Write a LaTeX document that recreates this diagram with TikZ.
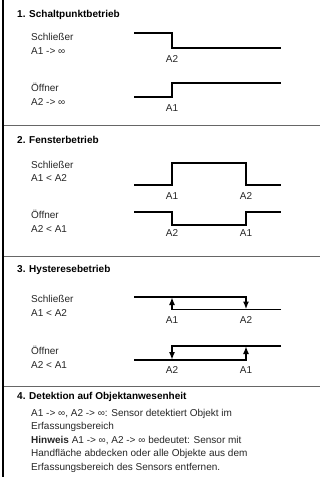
\documentclass[tikz,border=0pt]{standalone}
\usepackage{fontspec}
\setmainfont{Liberation Sans}
\usetikzlibrary{arrows.meta}

\tikzset{
  sectitle/.style={anchor=west, inner sep=0pt, font=\bfseries\fontsize{10}{13.5}\selectfont},
  modelabel/.style={anchor=west, align=left, inner sep=0pt, text=black!85, font=\fontsize{10}{13.5}\selectfont},
  levellabel/.style={inner sep=0pt, text=black!85, font=\fontsize{10}{12}\selectfont},
  signal/.style={line width=1.8pt, line cap=butt, line join=miter},
  switcharrow/.style={signal, -{Latex[length=8pt,width=6pt]}},
  divider/.style={line width=0.9pt, black!60},
}

\begin{document}
\begin{tikzpicture}[x=1pt, y=-1pt]
  % Define page bounds and switching points
  \def\xmax{332} \def\ymax{477}
  \def\xs{134} \def\xa{172} \def\xb{246} \def\xe{281}
  \useasboundingbox (0,0) rectangle (\xmax,\ymax);

  % Left border and section dividers
  \draw[line width=2pt] (3,0) -- (3,\ymax);
  \draw[divider] (4,125.5) -- (320,125.5);
  \draw[divider] (4,256) -- (320,256);
  \draw[divider] (4,386) -- (320,386);

  % Part 1: Schaltpunktbetrieb
  \node[sectitle] (t1) at (17,15) {1. Schaltpunktbetrieb};
  \node[modelabel] (s1) at (31,44) {Schließer\\A1 -> ∞};
  \node[modelabel] (o1) at (31,94.5) {Öffner\\A2 -> ∞};
  \draw[signal] (\xs,33) -- (\xa,33) -- (\xa,48) -- (\xe,48);
  \draw[signal] (\xs,97) -- (\xa,97) -- (\xa,83) -- (\xe,83);
  \node[levellabel] (s1b) at (\xa,59) {A2};
  \node[levellabel] (o1a) at (\xa,108) {A1};

  % Part 2: Fensterbetrieb
  \node[sectitle] (t2) at (17,140) {2. Fensterbetrieb};
  \node[modelabel] (s2) at (31,171.5) {Schließer\\A1 < A2};
  \node[modelabel] (o2) at (31,221.5) {Öffner\\A2 < A1};
  \draw[signal] (\xs,185) -- (\xa,185) -- (\xa,163) -- (\xb,163) -- (\xb,185) -- (\xe,185);
  \draw[signal] (\xs,212) -- (\xa,212) -- (\xa,225) -- (\xb,225) -- (\xb,212) -- (\xe,212);
  \node[levellabel] (s2a) at (\xa,196) {A1};
  \node[levellabel] (s2b) at (\xb,196) {A2};
  \node[levellabel] (o2b) at (\xa,233) {A2};
  \node[levellabel] (o2a) at (\xb,233) {A1};

  % Part 3: Hysteresebetrieb
  \node[sectitle] (t3) at (17,270) {3. Hysteresebetrieb};
  \node[modelabel] (s3) at (31,306) {Schließer\\A1 < A2};
  \node[modelabel] (o3) at (31,357.5) {Öffner\\A2 < A1};
  \draw[switcharrow] (\xs,297) -- (\xb,297) -- (\xb,309.5);
  \draw[switcharrow] (\xe,309.5) -- (\xa,309.5) -- (\xa,297);
  \draw[switcharrow] (\xe,346) -- (\xa,346) -- (\xa,360);
  \draw[switcharrow] (\xs,360) -- (\xb,360) -- (\xb,346);
  \node[levellabel] (s3a) at (\xa,320) {A1};
  \node[levellabel] (s3b) at (\xb,320) {A2};
  \node[levellabel] (o3b) at (\xa,370) {A2};
  \node[levellabel] (o3a) at (\xb,370) {A1};

  % Part 4: Detektion auf Objektanwesenheit
  \node[sectitle] (t4) at (17,397) {4. Detektion auf Objektanwesenheit};
  \node[modelabel, anchor=north west] (note) at (31,409)
    {A1 -> ∞, A2 -> ∞: Sensor detektiert Objekt im\\
     Erfassungsbereich\\
     \textbf{Hinweis} A1 -> ∞, A2 -> ∞ bedeutet: Sensor mit\\
     Handfläche abdecken oder alle Objekte aus dem\\
     Erfassungsbereich des Sensors entfernen.};
\end{tikzpicture}
\end{document}
